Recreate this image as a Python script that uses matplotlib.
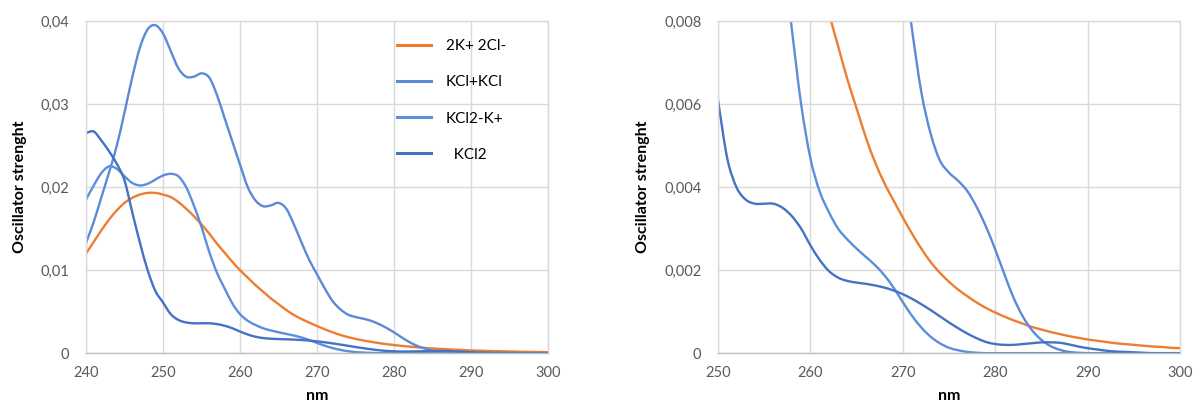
import numpy as np
import matplotlib
matplotlib.use('Agg')
import matplotlib.pyplot as plt
from matplotlib.path import Path
from matplotlib.patches import PathPatch
from matplotlib.lines import Line2D

plt.rcParams['font.family'] = ['Lato', 'DejaVu Sans']

# Computed spectra, 1 nm steps
nm = np.arange(240, 301)

f_2K_2Cl = [0.0120, 0.0134, 0.0148, 0.0161, 0.0172, 0.0181, 0.0187, 0.0191, 0.0193, 0.0193,
            0.0191, 0.0188, 0.0182, 0.0174, 0.0165, 0.0155, 0.0144, 0.0132, 0.0121, 0.0110,
            0.0100, 0.0091, 0.0082, 0.0074, 0.0066, 0.0059, 0.0052, 0.0046, 0.00410, 0.00368,
            0.00327, 0.00288, 0.00252, 0.00220, 0.00194, 0.00172, 0.00153, 0.00137, 0.00122, 0.00109,
            0.00098, 0.00088, 0.00079, 0.00071, 0.00063, 0.00057, 0.00051, 0.00046, 0.00041, 0.00037,
            0.00033, 0.00030, 0.00027, 0.00024, 0.00022, 0.00020, 0.00018, 0.00016, 0.00015, 0.00013,
            0.00012]

f_KCl_KCl = [0.0133, 0.0158, 0.0188, 0.0218, 0.0250, 0.0290, 0.0332, 0.0368, 0.0390, 0.0395,
             0.0385, 0.0364, 0.0343, 0.0333, 0.0333, 0.0337, 0.0332, 0.0311, 0.0283, 0.0255,
             0.0227, 0.0200, 0.0184, 0.0177, 0.0178, 0.0181, 0.0174, 0.0155, 0.0133, 0.0112,
             0.0095, 0.0078, 0.0063, 0.0053, 0.00465, 0.00435, 0.00415, 0.0039, 0.00352, 0.00305,
             0.0025, 0.0019, 0.00133, 0.00088, 0.00055, 0.00032, 0.00017, 0.00008, 0.00003, 0.00001,
             0.0, 0.0, 0.0, 0.0, 0.0, 0.0, 0.0, 0.0, 0.0, 0.0,
             0.0]

f_KCl2_K = [0.0185, 0.0202, 0.0217, 0.0225, 0.0222, 0.0213, 0.0205, 0.0202, 0.0204, 0.0209,
            0.0214, 0.0216, 0.0213, 0.0200, 0.0178, 0.0152, 0.0122, 0.0097, 0.0078, 0.0060,
            0.0047, 0.0039, 0.0034, 0.0030, 0.00274, 0.00252, 0.00232, 0.00212, 0.00188, 0.00158,
            0.00123, 0.00090, 0.00062, 0.00040, 0.00024, 0.00013, 0.00007, 0.00003, 0.00001, 0.0,
            0.0, 0.0, 0.0, 0.0, 0.0, 0.0, 0.0, 0.0, 0.0, 0.0,
            0.0, 0.0, 0.0, 0.0, 0.0, 0.0, 0.0, 0.0, 0.0, 0.0,
            0.0]

f_KCl2 = [0.0265, 0.0267, 0.0256, 0.0243, 0.0228, 0.0208, 0.0170, 0.0133, 0.0100, 0.0075,
          0.0061, 0.0047, 0.0040, 0.0037, 0.0036, 0.0036, 0.0036, 0.0035, 0.0033, 0.0030,
          0.0026, 0.00225, 0.00198, 0.00182, 0.00174, 0.00170, 0.00167, 0.00163, 0.00158, 0.00151,
          0.00142, 0.00131, 0.00118, 0.00104, 0.00089, 0.00074, 0.00060, 0.00047, 0.00036, 0.00027,
          0.00022, 0.00020, 0.00020, 0.00022, 0.00024, 0.00026, 0.00026, 0.00025, 0.00021, 0.00016,
          0.00012, 0.00009, 0.00006, 0.00004, 0.00003, 0.00002, 0.00001, 0.0, 0.0, 0.0,
          0.0]

series = [('2K+ 2Cl-', f_2K_2Cl, '#ed7d31'),
          ('KCl+KCl', f_KCl_KCl, '#5b8ad9'),
          ('KCl2-K+', f_KCl2_K, '#5b8edc'),
          ('  KCl2', f_KCl2, '#4472c4')]

yticks_left = [0, 0.01, 0.02, 0.03, 0.04]
ylabels_left = ['0', '0,01', '0,02', '0,03', '0,04']
yticks_right = [0, 0.002, 0.004, 0.006, 0.008]
ylabels_right = ['0', '0,002', '0,004', '0,006', '0,008']


def smooth_path(x, y):
    # Excel-style smoothed line: cubic Bezier segments through every point
    p = np.column_stack([x, y]).astype(float)
    ext = np.vstack([p[0], p, p[-1]])
    verts = [p[0]]
    codes = [Path.MOVETO]
    for i in range(len(p) - 1):
        c1 = ext[i + 1] + (ext[i + 2] - ext[i]) / 6.0
        c2 = ext[i + 2] - (ext[i + 3] - ext[i + 1]) / 6.0
        verts += [c1, c2, p[i + 1]]
        codes += [Path.CURVE4] * 3
    return Path(verts, codes)


fig = plt.figure(figsize=(11.93, 4.05), dpi=100)
ax1 = fig.add_axes([0.0721, 0.128, 0.3873, 0.820])
ax2 = fig.add_axes([0.6018, 0.128, 0.3873, 0.820])


def style(ax, xlim, xticks, yticks, ylabels):
    ax.set_xlim(*xlim)
    ax.set_ylim(yticks[0], yticks[-1])
    ax.set_xticks(xticks)
    ax.set_yticks(yticks)
    ax.set_yticklabels(ylabels)
    ax.grid(True, color='#d9d9d9', lw=1.0)
    ax.set_axisbelow(True)
    for s in ax.spines.values():
        s.set_color('#d9d9d9')
        s.set_linewidth(1.0)
    ax.spines['bottom'].set_color('#bfbfbf')
    ax.tick_params(length=0, labelsize=10.5, labelcolor='#595959', pad=12)
    ax.tick_params(axis='x', pad=9)
    ax.set_xlabel('nm', fontsize=11.5, fontweight='bold', labelpad=7)
    ax.set_ylabel('Oscillator strenght', fontsize=11.5, fontweight='bold', labelpad=10)


for ax in (ax1, ax2):
    for label, y, col in series:
        ax.add_patch(PathPatch(smooth_path(nm, y), facecolor='none', edgecolor=col,
                               lw=1.7, clip_on=True))

style(ax1, (240, 300), np.arange(240, 301, 10), yticks_left, ylabels_left)
style(ax2, (250, 300), np.arange(250, 301, 10), yticks_right, ylabels_right)

handles = [Line2D([], [], color=col, lw=2.2) for _, _, col in series]
ax1.legend(handles, [s[0] for s in series], loc='upper left', bbox_to_anchor=(0.673, 0.945),
           frameon=False, fontsize=11, handlelength=2.2, handletextpad=1.0,
           labelspacing=1.45, borderpad=0, borderaxespad=0)

plt.savefig('out.png', dpi=100)
